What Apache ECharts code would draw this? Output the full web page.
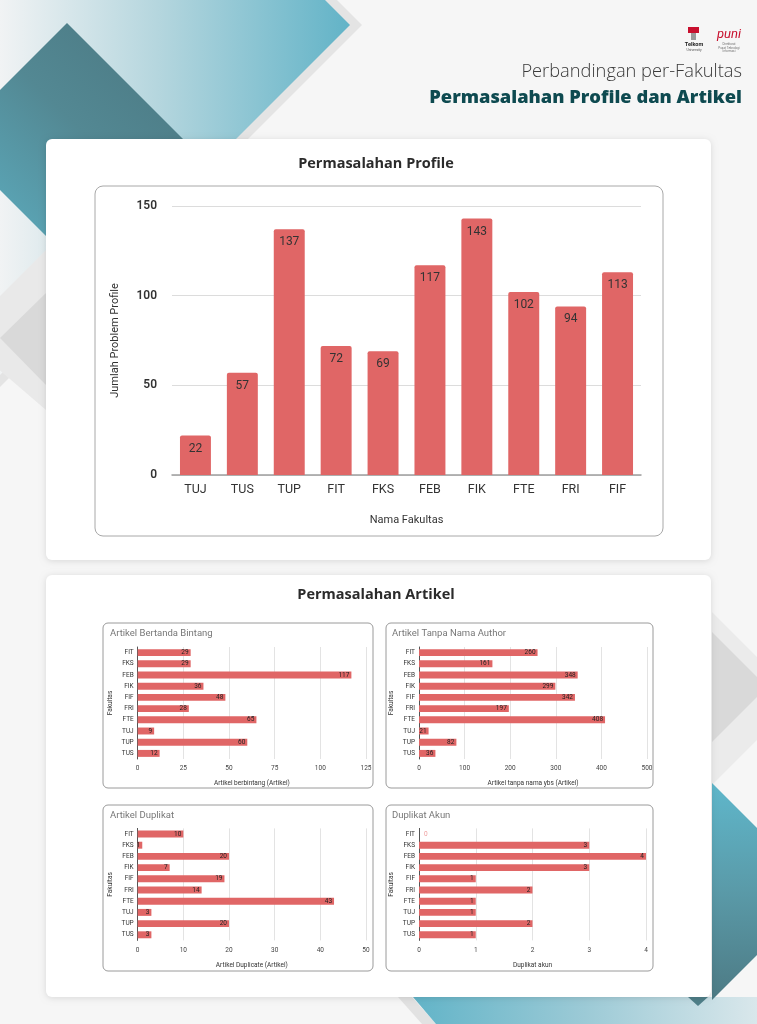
<!DOCTYPE html>
<html>
<head>
<meta charset="utf-8">
<script src="https://cdn.jsdelivr.net/npm/echarts@6/dist/echarts.min.js"></script>
<style>
html,body{margin:0;padding:0;background:#f6f6f6;}
#c{width:757px;height:1024px;}
</style>
</head>
<body>
<div id="c"></div>
<script>
// ---- data ----
const profileCategories = ['TUJ','TUS','TUP','FIT','FKS','FEB','FIK','FTE','FRI','FIF'];
const profileValues = [22,57,137,72,69,117,143,102,94,113];
const profileTicks = [0,50,100,150];

const faculties = ['FIT','FKS','FEB','FIK','FIF','FRI','FTE','TUJ','TUP','TUS'];
const bintangValues = [29,29,117,36,48,28,65,9,60,12];
const bintangTicks = [0,25,50,75,100,125];
const tanpaAuthorValues = [260,161,348,299,342,197,408,21,82,36];
const tanpaAuthorTicks = [0,100,200,300,400,500];
const duplikatValues = [10,1,20,7,19,14,43,3,20,3];
const duplikatTicks = [0,10,20,30,40,50];
const akunValues = [0,3,4,3,1,2,1,1,2,1];
const akunTicks = [0,1,2,3,4];

const headerSub = 'Perbandingan per-Fakultas';
const headerMain = 'Permasalahan Profile dan Artikel';
const profileTitle = 'Permasalahan Profile';
const artikelTitle = 'Permasalahan Artikel';
const smallTitles = ['Artikel Bertanda Bintang','Artikel Tanpa Nama Author','Artikel Duplikat','Duplikat Akun'];
const smallAxisNames = ['Artikel berbintang (Artikel)','Artikel tanpa nama ybs (Artikel)','Artikel Duplicate (Artikel)','Duplikat akun'];

// ---- style ----
const RED = '#e06666';
const FONT = 'Roboto, "Liberation Sans", Arial, sans-serif';
const TFONT = '"Open Sans", "Noto Sans", sans-serif';

const chart = echarts.init(document.getElementById('c'), null, {renderer:'canvas'});

function lin(x,y,x2,y2,stops){return {type:'linear',x:x,y:y,x2:x2,y2:y2,colorStops:stops.map(s=>({offset:s[0],color:s[1]}))};}

const graphics = [
  // top-left decorations
  {type:'polygon', z:0, shape:{points:[[0,0],[337,0],[362,25],[0,387]]}, style:{fill:'#e4e4e4'}},
  {type:'polygon', z:0, shape:{points:[[0,0],[325,0],[350,25],[0,375]]},
   style:{fill:lin(0,0,1,0,[[0,'#f1f3f4'],[0.45,'#b5d6de'],[1,'#62b3c7']])}},
  {type:'polygon', z:0, shape:{points:[[67,23],[184,140],[67,257],[-50,140]]},
   style:{fill:lin(1,0,0,1,[[0,'#4a7680'],[0.45,'#538893'],[1,'#5fb6ca']])}},
  // left grey
  {type:'polygon', z:0, shape:{points:[[46,250],[-40,336],[46,410]]}, style:{fill:'#e9e9e9'}},
  {type:'polygon', z:0, shape:{points:[[46,293],[0,338],[46,385]]}, style:{fill:'#d9d9d9'}},
  // right grey
  {type:'polygon', z:0, shape:{points:[[712,612],[757,657],[757,740],[712,785]]}, style:{fill:'#ebebeb'}},
  {type:'polygon', z:0, shape:{points:[[712,632],[757,677],[757,697],[712,742]]}, style:{fill:'#d9d9d9'}},
  // bottom strip
  {type:'polygon', z:0, shape:{points:[[398,997],[412,997],[436,1024],[422,1024]]}, style:{fill:'#e2e2e2'}},
  {type:'polygon', z:0, shape:{points:[[413,997],[757,997],[757,1024],[436,1024]]},
   style:{fill:lin(0,0,1,0,[[0,'#62b4c8'],[0.5,'#9ccad6'],[1,'#d9e7eb']])}},
  // right teal
  {type:'polygon', z:0, shape:{points:[[712,783],[757,828],[757,955],[712,1000]]},
   style:{fill:lin(0,0,0,1,[[0,'#5fb7cb'],[0.5,'#5a9aa8'],[1,'#4d7a84']])}},
  {type:'polygon', z:0, shape:{points:[[688,997],[708,997],[698,1006]]}, style:{fill:'#4f7f89'}},
  // cards
  {type:'rect', z:1, shape:{x:46,y:139,width:665,height:421,r:6}, style:{fill:'#ffffff',shadowBlur:6,shadowColor:'rgba(0,0,0,0.12)',shadowOffsetY:1}},
  {type:'rect', z:1, shape:{x:46,y:575,width:665,height:422,r:6}, style:{fill:'#ffffff',shadowBlur:6,shadowColor:'rgba(0,0,0,0.12)',shadowOffsetY:1}},
  // inner boxes
  {type:'rect', z:1, z2:5, shape:{x:95,y:186,width:568,height:350,r:8}, style:{fill:'none',stroke:'#a8a8a8',lineWidth:1}},
  {type:'rect', z:1, z2:5, shape:{x:103,y:623,width:270,height:165,r:5}, style:{fill:'none',stroke:'#9a9a9a',lineWidth:1}},
  {type:'rect', z:1, z2:5, shape:{x:386,y:623,width:267,height:165,r:5}, style:{fill:'none',stroke:'#9a9a9a',lineWidth:1}},
  {type:'rect', z:1, z2:5, shape:{x:103,y:805,width:270,height:166,r:5}, style:{fill:'none',stroke:'#9a9a9a',lineWidth:1}},
  {type:'rect', z:1, z2:5, shape:{x:386,y:805,width:267,height:166,r:5}, style:{fill:'none',stroke:'#9a9a9a',lineWidth:1}},
  // header texts
  {type:'text', z:1, style:{text:headerSub, x:742, y:72, textAlign:'right', textVerticalAlign:'middle', fill:'#3a3a3a', fontSize:18.3, fontWeight:300, fontFamily:TFONT}},
  {type:'text', z:1, style:{text:headerMain, x:742, y:98, textAlign:'right', textVerticalAlign:'middle', fill:'#0e4a50', fontSize:18.3, fontWeight:800, fontFamily:TFONT}},
  // logos
  {type:'rect', z:1, shape:{x:688,y:27,width:11,height:6}, style:{fill:'#c8102e'}},
  {type:'rect', z:1, shape:{x:691,y:33,width:5,height:7}, style:{fill:'#9a9a9a'}},
  {type:'text', z:1, style:{text:'Telkom', x:694, y:45, textAlign:'center', textVerticalAlign:'middle', fill:'#222', fontSize:5.5, fontWeight:700, fontFamily:FONT}},
  {type:'text', z:1, style:{text:'University', x:694, y:50, textAlign:'center', textVerticalAlign:'middle', fill:'#555', fontSize:3.5, fontFamily:FONT}},
  {type:'text', z:1, style:{text:'puni', x:729, y:35, textAlign:'center', textVerticalAlign:'middle', fill:'#c8102e', fontSize:13, fontStyle:'italic', fontFamily:FONT}},
  {type:'text', z:1, style:{text:'Direktorat\nPusat Teknologi\nInformasi', x:729, y:48, textAlign:'center', textVerticalAlign:'middle', fill:'#777', fontSize:3, lineHeight:3.5, fontFamily:FONT}},
  // card titles
  {type:'text', z:1, style:{text:profileTitle, x:376, y:164, textAlign:'center', textVerticalAlign:'middle', fill:'#2b2b2b', fontSize:14.5, fontWeight:700, fontFamily:TFONT}},
  {type:'text', z:1, style:{text:artikelTitle, x:376, y:595, textAlign:'center', textVerticalAlign:'middle', fill:'#2b2b2b', fontSize:14.5, fontWeight:700, fontFamily:TFONT}}
];
const titlePos = [[110,634],[392,634],[110,816],[392,816]];
smallTitles.forEach((t,i)=>{
  graphics.push({type:'text', z:1, z2:6, style:{text:t, x:titlePos[i][0], y:titlePos[i][1], textVerticalAlign:'middle', fill:'#777', fontSize:9.5, fontFamily:FONT}});
});

// grids
const grids = [
  {left:172, top:206, width:469, height:269},
  {left:137.7, top:647, width:228.3, height:112},
  {left:419, top:647, width:228, height:112},
  {left:137.7, top:828.4, width:228.3, height:112},
  {left:419, top:828.4, width:227, height:112}
];

const xAxes = [], yAxes = [], series = [];
// main chart
xAxes.push({gridIndex:0, type:'category', data:profileCategories, z:2,
  axisLine:{show:true, lineStyle:{color:'#9e9e9e', width:1.5}}, axisTick:{show:false},
  axisLabel:{color:'#333', fontSize:12.5, margin:8, fontFamily:FONT},
  name:'Nama Fakultas', nameLocation:'middle', nameGap:40, nameTextStyle:{color:'#333', fontSize:11, fontFamily:FONT}});
yAxes.push({gridIndex:0, type:'value', min:profileTicks[0], max:profileTicks[profileTicks.length-1], interval:profileTicks[1]-profileTicks[0], z:2,
  axisLine:{show:false}, axisTick:{show:false},
  axisLabel:{color:'#333', fontSize:12, fontWeight:600, margin:15, fontFamily:FONT},
  splitLine:{lineStyle:{color:'#dcdcdc', width:1}},
  name:'Jumlah Problem Profile', nameLocation:'middle', nameGap:51, nameRotate:90, nameTextStyle:{color:'#333', fontSize:11, fontFamily:FONT}});
series.push({type:'bar', xAxisIndex:0, yAxisIndex:0, data:profileValues, z:3, barCategoryGap:'34%',
  itemStyle:{color:RED, borderRadius:[2,2,0,0]},
  label:{show:true, position:'insideTop', distance:7, color:'#333', fontSize:12, fontFamily:FONT}});

const smallSets = [
  {values:bintangValues, ticks:bintangTicks},
  {values:tanpaAuthorValues, ticks:tanpaAuthorTicks},
  {values:duplikatValues, ticks:duplikatTicks},
  {values:akunValues, ticks:akunTicks}
];
smallSets.forEach((s,i)=>{
  const g = i+1;
  xAxes.push({gridIndex:g, type:'value', min:s.ticks[0], max:s.ticks[s.ticks.length-1], interval:s.ticks[1]-s.ticks[0], z:2,
    axisLine:{show:false}, axisTick:{show:false},
    axisLabel:{color:'#444', fontSize:6.5, margin:6, fontFamily:FONT},
    splitLine:{lineStyle:{color:'#e3e3e3', width:1}},
    name:smallAxisNames[i], nameLocation:'middle', nameGap:21, nameTextStyle:{color:'#333', fontSize:6.5, fontFamily:FONT}});
  yAxes.push({gridIndex:g, type:'category', data:faculties, inverse:true, z:2,
    axisLine:{show:true, lineStyle:{color:'#555', width:1}}, axisTick:{show:false},
    axisLabel:{color:'#333', fontSize:6.5, margin:4, fontFamily:FONT},
    name:'Fakultas', nameLocation:'middle', nameGap:24, nameRotate:90, nameTextStyle:{color:'#333', fontSize:6.5, fontFamily:FONT}});
  series.push({type:'bar', xAxisIndex:g, yAxisIndex:g, z:3, barCategoryGap:'38%',
    data:s.values.map(v => v===0 ? {value:v, label:{position:'right', distance:5, color:'#f0a0a0'}} : v),
    itemStyle:{color:RED},
    label:{show:true, position:'insideRight', distance:2, color:'#222', fontSize:6.5, fontFamily:FONT}});
});

chart.setOption({
  backgroundColor:'#f6f6f6',
  animation:false,
  graphic:{elements:graphics},
  grid:grids,
  xAxis:xAxes,
  yAxis:yAxes,
  series:series
});
</script>
</body>
</html>
